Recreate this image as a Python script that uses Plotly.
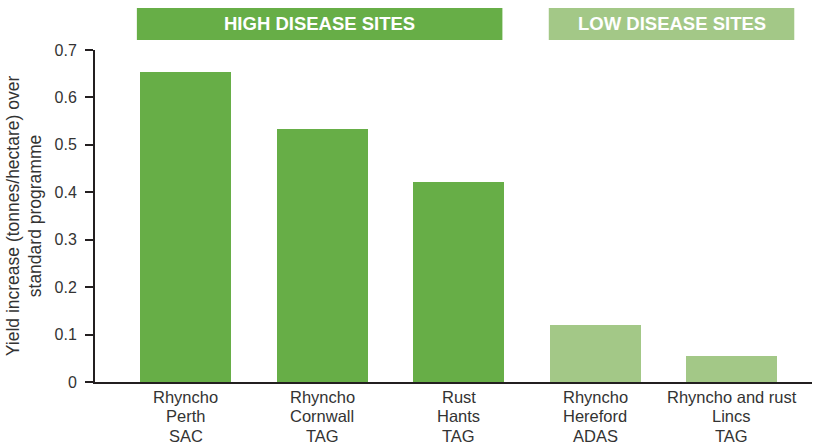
import plotly.graph_objects as go

categories = [["Rhyncho", "Perth", "SAC"], ["Rhyncho", "Cornwall", "TAG"], ["Rust", "Hants", "TAG"],
              ["Rhyncho", "Hereford", "ADAS"], ["Rhyncho and rust", "Lincs", "TAG"]]
values = [0.654, 0.533, 0.422, 0.120, 0.055]
groups = ["high", "high", "high", "low", "low"]
group_labels = {"high": "HIGH DISEASE SITES", "low": "LOW DISEASE SITES"}
y_ticks = [0, 0.1, 0.2, 0.3, 0.4, 0.5, 0.6, 0.7]
y_title = "Yield increase (tonnes/hectare) over<br>standard programme"

DARK = "#67ae47"
LIGHT = "#a3c887"
AXIS = "#231f20"
TEXT = "#333333"
FONT = "Liberation Sans, Arial, Helvetica, sans-serif"
colors = [DARK if g == "high" else LIGHT for g in groups]
xs = list(range(len(categories)))

fig = go.Figure()
fig.add_trace(go.Bar(x=xs, y=values, marker=dict(color=colors, line=dict(width=0)),
                     width=0.667, hoverinfo="skip"))

# header boxes
hi_idx = [i for i, g in enumerate(groups) if g == "high"]
lo_idx = [i for i, g in enumerate(groups) if g == "low"]
boxes = [(hi_idx[0] - 0.36, hi_idx[-1] + 0.32, DARK, group_labels["high"]),
         (lo_idx[0] - 0.34, lo_idx[-1] + 0.46, LIGHT, group_labels["low"])]
for x0, x1, c, lab in boxes:
    fig.add_shape(type="rect", xref="x", yref="paper", x0=x0, x1=x1, y0=1.030, y1=1.1265,
                  fillcolor=c, line=dict(width=0), layer="above")
    fig.add_annotation(x=(x0 + x1) / 2, y=1.0785, xref="x", yref="paper", text=lab,
                       showarrow=False, font=dict(family=FONT, size=18.5, color="white", weight="bold"),
                       xanchor="center", yanchor="middle")

# category labels (three lines each, tight line spacing)
line_shifts = [-14.5, -34, -53.5]
for i, lines in enumerate(categories):
    for j, line in enumerate(lines):
        fig.add_annotation(x=xs[i], y=0, xref="x", yref="y", text=line, showarrow=False,
                           font=dict(family=FONT, size=16.5, color=TEXT),
                           xanchor="center", yanchor="middle", yshift=line_shifts[j])

fig.update_layout(
    width=814, height=445,
    margin=dict(l=95, r=2, t=50, b=63, autoexpand=False),
    plot_bgcolor="white", paper_bgcolor="white",
    showlegend=False,
    font=dict(family=FONT, color=TEXT, size=16),
    bargap=0,
)
fig.update_xaxes(range=[-0.667, 4.59], showticklabels=False,
                 showline=True, linecolor=AXIS, linewidth=2, ticks="", showgrid=False,
                 zeroline=False, fixedrange=True, automargin=False)
fig.update_yaxes(range=[0, 0.7], tickmode="array", tickvals=y_ticks,
                 ticktext=[("0" if v == 0 else f"{v:.1f}") for v in y_ticks],
                 showline=True, linecolor=AXIS, linewidth=2, ticks="outside", ticklen=8,
                 tickwidth=2, tickcolor=AXIS, showgrid=False, zeroline=False,
                 ticklabelstandoff=5, tickfont=dict(size=16, color=TEXT),
                 title=dict(text=y_title, font=dict(size=17.5, color=TEXT), standoff=8),
                 fixedrange=True, automargin=False)

fig.write_html("out.html")
